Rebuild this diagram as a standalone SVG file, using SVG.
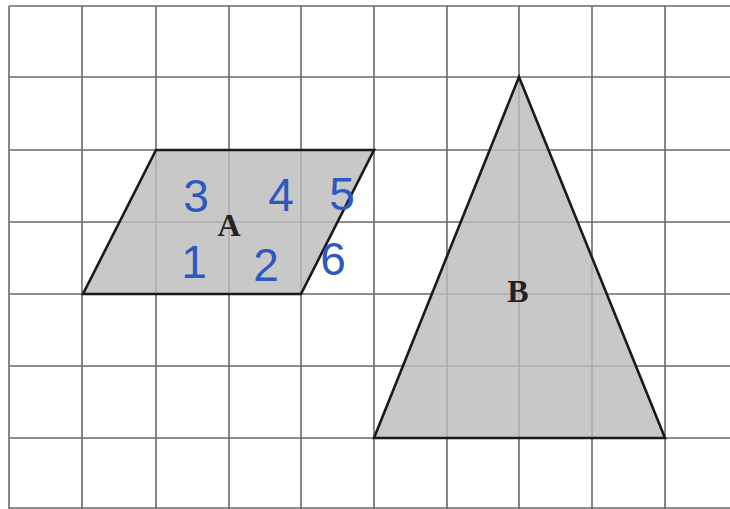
<svg xmlns="http://www.w3.org/2000/svg" width="730" height="509" viewBox="0 0 730 509">
<style>
.grid line{stroke:#6a6a6a;stroke-width:1.6}
.shape{fill:#bcbcbc;fill-opacity:0.82;stroke:#1a1a1a;stroke-width:2.6;stroke-linejoin:miter}
.lbl{font-family:"Liberation Serif",serif;font-weight:bold;font-size:32px;fill:#222;text-anchor:middle}
.hw{font-family:"Liberation Sans",sans-serif;font-size:46px;fill:#2d58bd;text-anchor:middle}
</style>
<rect width="730" height="509" fill="#fff"/>
<g id="grid" class="grid">
<line x1="9" y1="6" x2="730" y2="6"/>
<line x1="9" y1="77" x2="730" y2="77"/>
<line x1="9" y1="150" x2="730" y2="150"/>
<line x1="9" y1="222" x2="730" y2="222"/>
<line x1="9" y1="294" x2="730" y2="294"/>
<line x1="9" y1="366" x2="730" y2="366"/>
<line x1="9" y1="438" x2="730" y2="438"/>
<line x1="9" y1="508" x2="730" y2="508"/>
<line x1="9" y1="6" x2="9" y2="509"/>
<line x1="82" y1="6" x2="82" y2="509"/>
<line x1="156" y1="6" x2="156" y2="509"/>
<line x1="229" y1="6" x2="229" y2="509"/>
<line x1="301" y1="6" x2="301" y2="509"/>
<line x1="374" y1="6" x2="374" y2="509"/>
<line x1="447" y1="6" x2="447" y2="509"/>
<line x1="519" y1="6" x2="519" y2="509"/>
<line x1="592" y1="6" x2="592" y2="509"/>
<line x1="665" y1="6" x2="665" y2="509"/>
</g>
<g id="shapeA">
<polygon class="shape" points="156,150 374,150 301,294 83,294"/>
<text class="lbl" x="229" y="236" font-size="30">A</text>
</g>
<g id="shapeB">
<polygon class="shape" points="519,77 665,438 374,438"/>
<text class="lbl" x="518" y="302">B</text>
</g>
<g id="counts">
<text class="hw" x="196" y="212">3</text>
<text class="hw" x="281" y="211">4</text>
<text class="hw" x="342" y="210">5</text>
<text class="hw" x="194" y="278">1</text>
<text class="hw" x="266" y="281">2</text>
<text class="hw" x="333" y="275">6</text>
</g>
</svg>
